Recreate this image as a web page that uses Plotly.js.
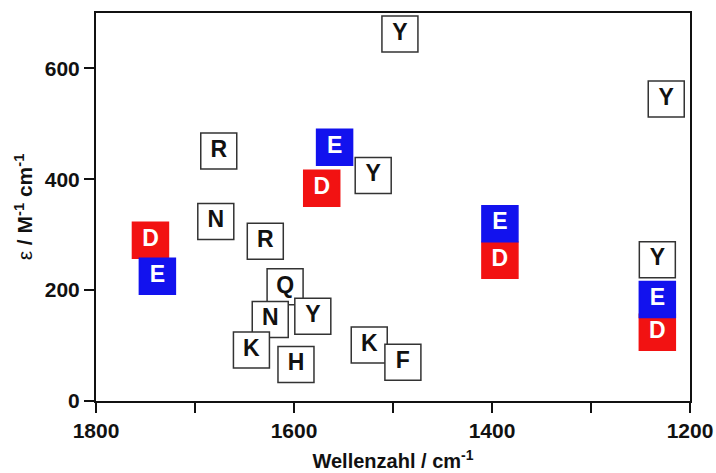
<!DOCTYPE html>
<html>
<head>
<meta charset="utf-8">
<script src="https://cdn.plot.ly/plotly-3.0.1.min.js"></script>
<style>html,body{margin:0;padding:0;background:#fff;}#chart{width:716px;height:473px;}</style>
</head>
<body>
<div id="chart"></div>
<script>
// Neutral (white box) residues
const neutralLabels = ['R', 'N', 'R', 'Q', 'N', 'Y', 'K', 'H', 'Y', 'Y', 'Y', 'K', 'F', 'Y'];
const neutralX = [1676, 1679, 1629, 1609, 1624, 1581, 1643, 1598, 1493, 1520, 1224, 1524, 1490, 1233];
const neutralY = [451, 324, 288, 206, 147, 153, 92, 66, 662, 407, 545, 101, 70, 255];
// Aspartate (red)
const dLabels = ['D', 'D', 'D', 'D'];
const dX = [1745, 1572, 1392, 1233];
const dY = [290, 384, 254, 124];
// Glutamate (blue)
const eLabels = ['E', 'E', 'E', 'E'];
const eX = [1738, 1559, 1392, 1233];
const eY = [225, 458, 320, 183];
// Axis ticks
const xTickVals = [1800, 1600, 1400, 1200];
const xTickText = ['1800', '1600', '1400', '1200'];
const yTickVals = [0, 200, 400, 600];

const FONT = 'Liberation Sans, Arial, sans-serif';

function boxTrace(x, y, labels, fill, line, textColor) {
  return {
    type: 'scatter', mode: 'markers+text',
    x: x, y: y, text: labels,
    textposition: 'middle center',
    textfont: {family: FONT, size: 23, color: textColor, weight: 'bold'},
    marker: {symbol: 'square', size: 36, color: fill, line: {color: line, width: 1.5}},
    hoverinfo: 'skip', showlegend: false, cliponaxis: false
  };
}

const data = [
  boxTrace(dX, dY, dLabels, '#f21212', '#f21212', '#ffffff'),
  boxTrace(eX, eY, eLabels, '#1212ee', '#1212ee', '#ffffff'),
  boxTrace(neutralX, neutralY, neutralLabels, '#ffffff', '#333333', '#111111')
];

const layout = {
  width: 716, height: 473,
  margin: {l: 96, r: 26, t: 13, b: 72},
  paper_bgcolor: '#ffffff', plot_bgcolor: '#ffffff',
  font: {family: FONT, color: '#111111'},
  xaxis: {
    range: [1800, 1200], autorange: false,
    tickmode: 'array', tickvals: xTickVals, ticktext: xTickText,
    ticks: 'outside', ticklen: 10, tickwidth: 2, tickcolor: '#111',
    minor: {dtick: 100, ticks: 'outside', ticklen: 10, tickwidth: 2, tickcolor: '#111', showgrid: false},
    showline: true, linewidth: 2, linecolor: '#111', mirror: true,
    showgrid: false, zeroline: false,
    tickfont: {family: FONT, size: 21, color: '#111', weight: 'bold'},
    title: {text: 'Wellenzahl / cm<sup>-1</sup>', font: {family: FONT, size: 20, color: '#111', weight: 'bold'}, standoff: 13}
  },
  yaxis: {
    range: [0, 700], autorange: false,
    tickmode: 'array', tickvals: yTickVals,
    ticks: 'outside', ticklen: 10, tickwidth: 2, tickcolor: '#111',
    showline: true, linewidth: 2, linecolor: '#111', mirror: true,
    showgrid: false, zeroline: false,
    tickfont: {family: FONT, size: 21, color: '#111', weight: 'bold'},
    title: {text: '<span style="font-weight:normal">ε</span> / M<sup>-1</sup> cm<sup>-1</sup>', font: {family: FONT, size: 21, color: '#111', weight: 'bold'}, standoff: 6}
  }
};

Plotly.newPlot('chart', data, layout, {displayModeBar: false, staticPlot: true});
</script>
</body>
</html>
